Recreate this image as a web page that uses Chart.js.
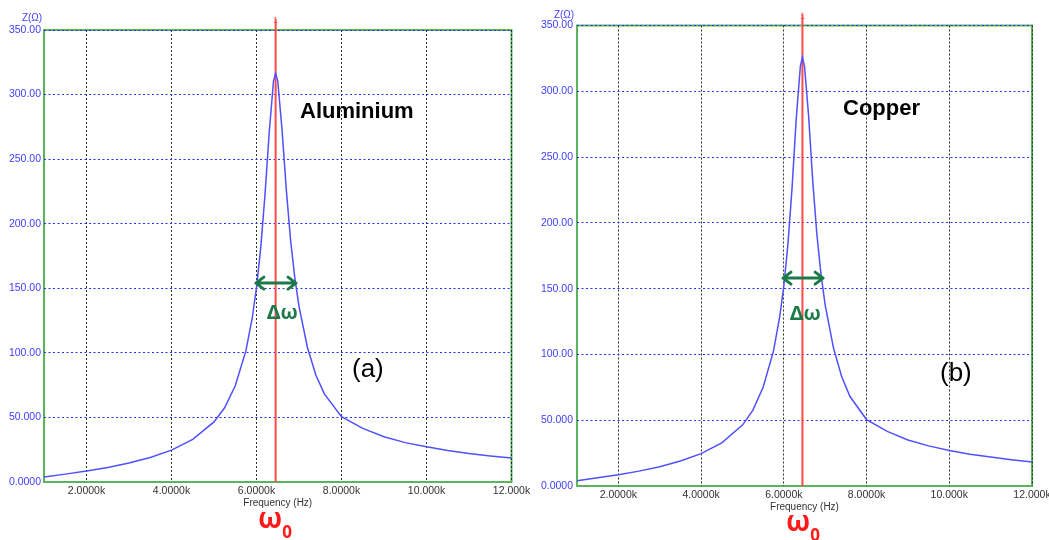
<!DOCTYPE html>
<html>
<head>
<meta charset="utf-8">
<script src="https://cdn.jsdelivr.net/npm/chart.js@4.4.1/dist/chart.umd.min.js"></script>
<style>
  html, body { margin: 0; padding: 0; background: #fff; }
  #wrap { position: relative; width: 1049px; height: 540px; overflow: hidden; }
  canvas { position: absolute; top: 0; }
</style>
</head>
<body>
<div id="wrap">
  <canvas id="alu" width="545" height="540" style="left:0"></canvas>
  <canvas id="cu" width="525" height="540" style="left:524px"></canvas>
</div>
<script>
// impedance sweeps, Hz -> ohms
const freqs = [1000, 1500, 2000, 2500, 3000, 3500, 4000, 4500, 5000, 5250, 5500, 5750, 5900, 6000,
  6100, 6200, 6300, 6400, 6450, 6500, 6600, 6700, 6800, 6900, 7000, 7200, 7400, 7600, 8000,
  8500, 9000, 9500, 10000, 10500, 11000, 11500, 12000];
const aluminiumZ = [3.9, 6.1, 8.5, 11.3, 14.7, 19.0, 24.7, 33.0, 46.5, 57.5, 74.5, 101.5, 127, 150.5,
  181.5, 222.5, 271, 310.5, 316.5, 310.5, 273, 227, 188, 158.5, 136, 104, 82.5, 68, 50.5,
  41.5, 35, 30.5, 27.3, 24.4, 22.1, 20.2, 18.5];
const copperZ = [4.0, 6.2, 8.5, 11.3, 14.7, 19.0, 24.6, 32.8, 46.3, 57.5, 75, 102.5, 128.5, 152,
  184, 227, 279, 319, 326, 319, 281, 231.5, 191, 160.5, 137.5, 105, 83, 68, 50.5,
  41.5, 35, 30.5, 27, 24.2, 22, 20, 18.2];

const resonanceHz = 6450;
// half-power band edges and the level the arrow sits at
const bandAluminium = [5985, 6930];
const bandAluminiumLevel = 154;
const bandCopper = [5980, 6950];
const bandCopperLevel = 158;

const xTickValues = [2000, 4000, 6000, 8000, 10000, 12000];
const xTickLabels = ['2.0000k', '4.0000k', '6.0000k', '8.0000k', '10.000k', '12.000k'];
const yTickValues = [0, 50, 100, 150, 200, 250, 300, 350];
const yTickLabels = ['0.0000', '50.000', '100.00', '150.00', '200.00', '250.00', '300.00', '350.00'];

const GREEN_FRAME = '#5cb35c';
const BLUE_GRID = '#2c2cff';
const DARK_GRID = '#223222';
const ARROW_GREEN = '#1b7a47';
const RED = '#ff4a4a';

function drawArrow(ctx, x1, x2, y) {
  ctx.save();
  ctx.strokeStyle = ARROW_GREEN;
  ctx.lineWidth = 3;
  ctx.lineCap = 'round';
  ctx.lineJoin = 'round';
  ctx.beginPath();
  ctx.moveTo(x1, y); ctx.lineTo(x2, y);
  ctx.moveTo(x1 + 8, y - 6); ctx.lineTo(x1, y); ctx.lineTo(x1 + 8, y + 6);
  ctx.moveTo(x2 - 8, y - 6); ctx.lineTo(x2, y); ctx.lineTo(x2 - 8, y + 6);
  ctx.stroke();
  ctx.restore();
}

function makePanel(canvasId, values, cfg) {
  const decor = {
    id: 'decor',
    beforeDraw(chart) {
      const { ctx, chartArea: a } = chart;
      ctx.save();
      ctx.strokeStyle = GREEN_FRAME;
      ctx.lineWidth = 2;
      ctx.strokeRect(a.left, a.top, a.right - a.left, a.bottom - a.top);
      ctx.restore();
    },
    beforeDatasetsDraw(chart) {
      const { ctx, chartArea: a, scales } = chart;
      const x = scales.x.getPixelForValue(resonanceHz);
      ctx.save();
      ctx.strokeStyle = RED;
      ctx.lineWidth = 2;
      ctx.beginPath();
      ctx.moveTo(x, a.top - 11);
      ctx.lineTo(x, a.bottom);
      ctx.stroke();
      ctx.fillStyle = RED;
      ctx.font = '9px "Liberation Sans"';
      ctx.textAlign = 'center';
      ctx.textBaseline = 'middle';
      ctx.fillText('1', x, a.top - 9);
      ctx.restore();
    },
    afterDatasetsDraw(chart) {
      const { ctx, chartArea: a, scales } = chart;
      const y = scales.y.getPixelForValue(cfg.bandLevel);
      drawArrow(ctx, scales.x.getPixelForValue(cfg.band[0]), scales.x.getPixelForValue(cfg.band[1]), y);

      ctx.save();
      ctx.textBaseline = 'alphabetic';
      ctx.textAlign = 'left';

      ctx.fillStyle = '#000';
      ctx.font = 'bold 22px "Liberation Sans"';
      ctx.fillText(cfg.name, cfg.namePos[0], cfg.namePos[1]);

      ctx.font = '26px "Liberation Sans"';
      ctx.fillText(cfg.tag, cfg.tagPos[0], cfg.tagPos[1]);

      ctx.fillStyle = ARROW_GREEN;
      ctx.font = 'bold 20px "Noto Sans"';
      ctx.fillText('Δω', cfg.deltaPos[0], cfg.deltaPos[1]);

      // omega-zero under the resonance line
      ctx.fillStyle = '#ff1a1a';
      ctx.font = 'bold 28px "Noto Sans"';
      ctx.fillText('ω', cfg.omegaPos[0], cfg.omegaPos[1]);
      const w = ctx.measureText('ω').width;
      ctx.font = 'bold 17px "Noto Sans"';
      ctx.fillText('0', cfg.omegaPos[0] + w, cfg.omegaPos[1] + 10);

      ctx.fillStyle = '#333';
      ctx.font = '10px "Liberation Sans"';
      ctx.textAlign = 'center';
      ctx.textBaseline = 'middle';
      ctx.fillText('Frequency (Hz)', (a.left + a.right) / 2, a.bottom + 21);

      ctx.fillStyle = '#4040ff';
      ctx.fillText('Z(Ω)', cfg.zPos[0], cfg.zPos[1]);
      ctx.restore();
    }
  };

  return new Chart(document.getElementById(canvasId), {
    type: 'line',
    data: {
      datasets: [{
        data: freqs.map((f, i) => ({ x: f, y: values[i] })),
        borderColor: '#5050ff',
        borderWidth: 1.5,
        pointRadius: 0,
        tension: 0,
        fill: false
      }]
    },
    options: {
      responsive: false,
      animation: false,
      events: [],
      layout: { padding: cfg.padding },
      plugins: { legend: { display: false }, tooltip: { enabled: false } },
      scales: {
        x: {
          type: 'linear',
          min: 1000,
          max: 12000,
          afterBuildTicks: (s) => { s.ticks = xTickValues.map(v => ({ value: v })); },
          afterFit: (s) => { s.height = cfg.axisHeight; s.paddingLeft = 0; s.paddingRight = 0; },
          grid: { color: DARK_GRID, lineWidth: 1, drawTicks: false },
          border: { display: false, dash: [2, 2] },
          ticks: {
            padding: 3,
            color: '#333',
            font: { family: 'Liberation Sans', size: 10.5 },
            maxRotation: 0,
            autoSkip: false,
            callback: (v) => xTickLabels[xTickValues.indexOf(v)]
          }
        },
        y: {
          min: 0,
          max: 350,
          afterBuildTicks: (s) => { s.ticks = yTickValues.map(v => ({ value: v })); },
          afterFit: (s) => { s.width = cfg.axisWidth; s.paddingTop = 0; s.paddingBottom = 0; },
          grid: {
            color: (c) => (c.tick && c.tick.value === 0 ? 'rgba(0,0,0,0)' : BLUE_GRID),
            lineWidth: 1,
            drawTicks: false
          },
          border: { display: false, dash: [2, 2.5] },
          ticks: {
            padding: cfg.yPad,
            color: '#4040ff',
            font: { family: 'Liberation Sans', size: 10.5 },
            autoSkip: false,
            callback: (v) => yTickLabels[yTickValues.indexOf(v)]
          }
        }
      }
    },
    plugins: [decor]
  });
}

makePanel('alu', aluminiumZ, {
  padding: { left: 0, right: 33.5, top: 30, bottom: 0 },
  axisWidth: 44, axisHeight: 58, yPad: 3,
  band: bandAluminium, bandLevel: bandAluminiumLevel,
  name: 'Aluminium', namePos: [300, 118],
  tag: '(a)', tagPos: [352, 377],
  deltaPos: [267, 319],
  omegaPos: [258, 528],
  zPos: [32, 18]
});

makePanel('cu', copperZ, {
  padding: { left: 0, right: 17, top: 25.5, bottom: 0 },
  axisWidth: 53, axisHeight: 54, yPad: 4,
  band: bandCopper, bandLevel: bandCopperLevel,
  name: 'Copper', namePos: [319, 115],
  tag: '(b)', tagPos: [416, 381],
  deltaPos: [266, 320],
  omegaPos: [262, 531],
  zPos: [40, 15]
});
</script>
</body>
</html>
